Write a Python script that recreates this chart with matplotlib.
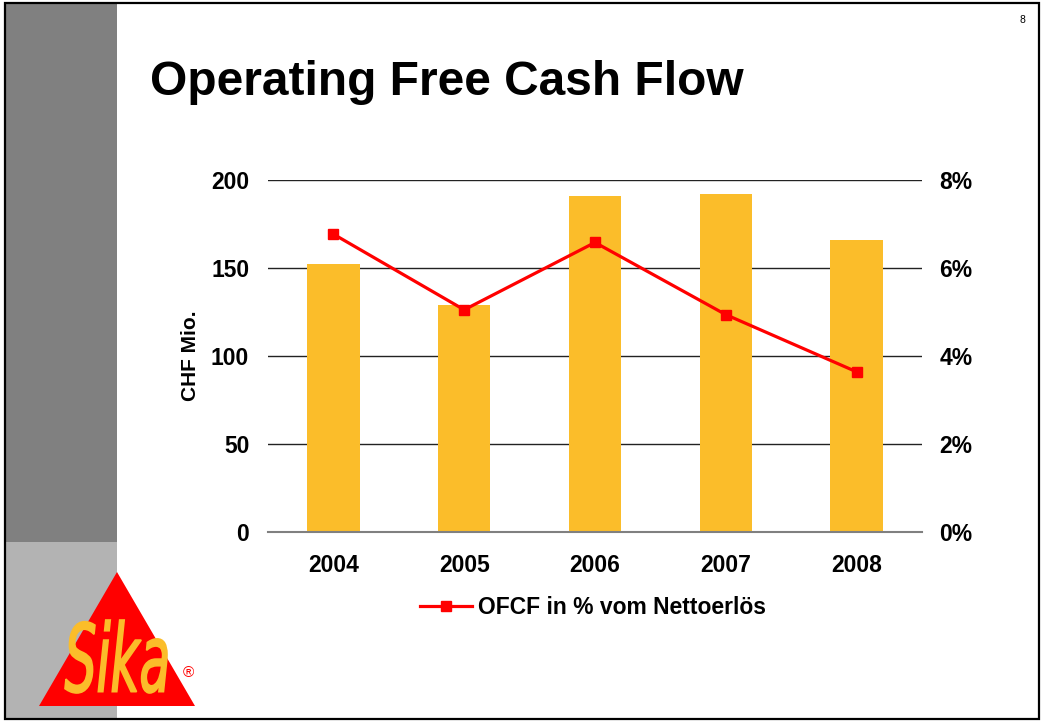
import matplotlib
matplotlib.use("Agg")
import matplotlib.pyplot as plt
from matplotlib.patches import Rectangle, Polygon, PathPatch
from matplotlib.textpath import TextPath
from matplotlib.font_manager import FontProperties
from matplotlib.transforms import Affine2D

# Daten
years = ["2004", "2005", "2006", "2007", "2008"]
ofcf_chf = [152, 129, 191, 192, 166]           # CHF Mio.
ofcf_pct = [6.77, 5.05, 6.58, 4.94, 3.64]      # % vom Nettoerlös
left_ticks = [0, 50, 100, 150, 200]
right_ticks = [0, 2, 4, 6, 8]

title = "Operating Free Cash Flow"
ylabel = "CHF Mio."
legend_label = "OFCF in % vom Nettoerlös"

W, H = 1042, 722
plt.rcParams['font.family'] = ['Liberation Sans', 'DejaVu Sans']

fig = plt.figure(figsize=(W / 100, H / 100), dpi=100)
fig.patch.set_facecolor("white")

# Hintergrund der Folie in Pixelkoordinaten
bg = fig.add_axes([0, 0, 1, 1], zorder=0)
bg.set_xlim(0, W)
bg.set_ylim(H, 0)
bg.axis("off")

bg.add_patch(Rectangle((5, 3), 112, 539, facecolor="#808080", edgecolor="none"))
bg.add_patch(Rectangle((5, 542), 112, 177, facecolor="#b3b3b3", edgecolor="none"))
bg.add_patch(Rectangle((5, 3), 1034, 716, facecolor="none", edgecolor="black", lw=1.6))

# Sika Logo
bg.add_patch(Polygon([(117, 572), (39, 706), (195, 706)], closed=True,
                     facecolor="#ff0000", edgecolor="none"))
tp = TextPath((0, 0), "Sika", size=1,
              prop=FontProperties(family="DejaVu Sans", weight="normal", style="italic"))
ext = tp.get_extents()
sx = (167 - 65) / ext.width
sy = (693 - 620) / ext.height
tr = Affine2D().translate(-ext.x0, -ext.y0).scale(sx, -sy).translate(65, 693) + bg.transData
bg.add_patch(PathPatch(tp, transform=tr, facecolor="#fbbd2a", edgecolor="#fbbd2a", lw=1.2))
bg.text(188, 673, "®", color="#ff0000", fontsize=11, ha="center", va="center")

# Titel und Seitenzahl
fig.text(150 / W, 1 - 95 / H, title, fontsize=34.5, fontweight="bold",
         ha="left", va="baseline")
fig.text(1022 / W, 1 - 20 / H, "8", fontsize=7.5, ha="center", va="center")

# Diagramm
ax = fig.add_axes([268 / W, 1 - 532 / H, 654 / W, 352 / H], zorder=2)
ax.set_facecolor("none")
x = range(len(years))
ax.bar(x, ofcf_chf, width=0.4, color="#fbbd2a", zorder=2)
ax.set_xlim(-0.5, len(years) - 0.5)
ax.set_ylim(0, 200)
ax.set_yticks(left_ticks)
ax.set_xticks(list(x))
ax.set_xticklabels(years)
for val in left_ticks[1:]:
    ax.axhline(val, color="#222222", lw=1.0, zorder=1)
for s in ["top", "right", "left"]:
    ax.spines[s].set_visible(False)
ax.spines["bottom"].set_color("#808080")
ax.spines["bottom"].set_linewidth(1.5)
ax.tick_params(axis="both", length=0, labelsize=16.5)
ax.tick_params(axis="y", pad=13.5)
ax.tick_params(axis="x", pad=16)
for lab in ax.get_xticklabels() + ax.get_yticklabels():
    lab.set_fontweight("bold")
ax.set_ylabel(ylabel, fontsize=15, fontweight="bold", labelpad=8)

ax2 = ax.twinx()
ax2.set_zorder(3)
ax2.set_ylim(0, 8)
ax2.set_yticks(right_ticks)
ax2.set_yticklabels([f"{v}%" for v in right_ticks])
line, = ax2.plot(list(x), ofcf_pct, color="#ff0000", lw=2.3, marker="s",
                 markersize=7, label=legend_label)
for s in ["top", "right", "left", "bottom"]:
    ax2.spines[s].set_visible(False)
ax2.tick_params(axis="y", length=0, labelsize=16.5, pad=12.5)
for lab in ax2.get_yticklabels():
    lab.set_fontweight("bold")

fig.legend(handles=[line], loc="center", bbox_to_anchor=(593 / W, 1 - 608 / H),
           frameon=False, handlelength=2.3, handletextpad=0.25,
           prop={"weight": "bold", "size": 16.5})

fig.savefig("out.png", dpi=100)
